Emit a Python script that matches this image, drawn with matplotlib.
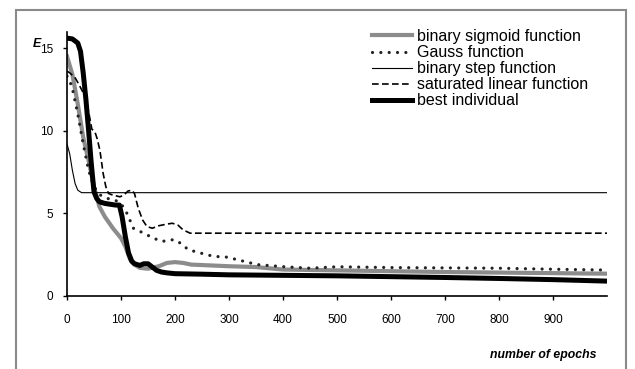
import matplotlib
matplotlib.use('Agg')
import matplotlib.pyplot as plt
from matplotlib.patches import Rectangle

plt.rcParams['font.family'] = ['Liberation Sans', 'DejaVu Sans']

# data
sig_x = [0, 10, 20, 30, 40, 50, 60, 70, 85, 95, 100, 108, 117, 125, 135, 150, 170, 185, 200, 215, 230,
         300, 350, 400, 500, 700, 1000]
sig_y = [14.5, 13.4, 11.6, 9.6, 8.2, 6.6, 5.4, 4.8, 4.1, 3.7, 3.5, 3.0, 2.2, 1.9, 1.7, 1.65, 1.8, 2.0, 2.05,
         2.0, 1.9, 1.8, 1.75, 1.6, 1.55, 1.45, 1.35]

gauss_x = [0, 9, 20, 30, 40, 50, 62, 75, 89, 100, 111, 123, 142, 160, 176, 194, 204, 213, 225, 247, 271,
           296, 315, 352, 402, 450, 500, 600, 700, 800, 900, 1000]
gauss_y = [13.3, 12.7, 11.0, 9.2, 7.6, 6.6, 6.1, 5.9, 5.8, 5.6, 5.0, 4.1, 3.8, 3.5, 3.3, 3.4, 3.35, 3.1,
           2.8, 2.6, 2.4, 2.35, 2.2, 1.9, 1.77, 1.68, 1.77, 1.72, 1.7, 1.68, 1.62, 1.57]

step_x = [0, 5, 10, 15, 20, 27, 1000]
step_y = [9.2, 8.6, 7.6, 6.8, 6.4, 6.25, 6.25]

sat_x = [0, 5, 15, 22, 30, 36, 42, 46, 52, 56, 61, 67, 72, 77, 85, 92, 98, 105, 113, 120, 125, 132, 140,
         148, 158, 170, 185, 195, 205, 215, 228, 240, 1000]
sat_y = [13.6, 13.5, 13.2, 12.8, 12.3, 11.8, 10.8, 10.1, 9.9, 9.5, 8.8, 7.4, 6.6, 6.2, 6.1, 6.05, 6.0, 6.1,
         6.35, 6.4, 6.2, 5.3, 4.6, 4.2, 4.1, 4.25, 4.35, 4.4, 4.3, 4.0, 3.8, 3.8, 3.8]

best_x = [0, 10, 20, 25, 30, 35, 40, 45, 50, 55, 60, 70, 80, 90, 97, 102, 108, 114, 120, 125, 135, 142,
          150, 158, 166, 175, 185, 200, 250, 300, 400, 500, 600, 700, 800, 900, 1000]
best_y = [15.6, 15.55, 15.3, 14.8, 13.5, 11.9, 10.0, 8.0, 6.3, 5.9, 5.7, 5.6, 5.55, 5.5, 5.5, 4.8, 3.6,
          2.6, 2.1, 1.95, 1.85, 1.95, 1.95, 1.75, 1.55, 1.45, 1.4, 1.35, 1.32, 1.28, 1.25, 1.22, 1.17,
          1.12, 1.06, 0.99, 0.9]

x_ticks = [0, 100, 200, 300, 400, 500, 600, 700, 800, 900]
y_ticks = [0, 5, 10, 15]

fig = plt.figure(figsize=(6.35, 3.69), dpi=100)
ax = fig.add_axes([67 / 635, 1 - 296 / 369, 540 / 635, 264.5 / 369])

ax.plot(sig_x, sig_y, color='#8c8c8c', lw=3.0, label='binary sigmoid function', solid_joinstyle='round')
ax.plot(gauss_x, gauss_y, color='#222222', lw=2.3, ls=(0, (0.01, 2.6)), dash_capstyle='round',
        label='Gauss function')
ax.plot(step_x, step_y, color='black', lw=0.8, label='binary step function')
ax.plot(sat_x, sat_y, color='black', lw=1.2, ls=(0, (4, 2)), label='saturated linear function')
ax.plot(best_x, best_y, color='black', lw=3.6, label='best individual', solid_joinstyle='round')

ax.set_xlim(0, 1000)
ax.set_ylim(0, 16)
ax.set_xticks(x_ticks)
ax.set_yticks(y_ticks)
ax.spines['right'].set_visible(False)
ax.spines['top'].set_visible(False)
for s in ['left', 'bottom']:
    ax.spines[s].set_linewidth(1.2)
ax.tick_params(direction='out', length=3, width=1, labelsize=8.5)
ax.tick_params(axis='y', pad=7)
ax.tick_params(axis='x', pad=10)

ax.legend(loc='upper left', bbox_to_anchor=(372 / 635, 1 - 29 / 369), bbox_transform=fig.transFigure,
          frameon=False, fontsize=11.5, borderpad=0, borderaxespad=0, handlelength=2.5,
          handletextpad=0.3, labelspacing=0.07)

fig.text(33 / 635, 1 - 44 / 369, 'E', fontsize=9, fontweight='bold', fontstyle='italic', va='center')
fig.text(596 / 635, 1 - 355 / 369, 'number of epochs', fontsize=8.8, fontweight='bold',
         fontstyle='italic', ha='right', va='center')

# grey outer frame (cut off at the bottom like in the source)
fig.patches.append(Rectangle((16 / 635, -0.1), 610 / 635, 1.1 - 10 / 369, transform=fig.transFigure,
                             fill=False, edgecolor='#8a8a8a', lw=1.5))

fig.savefig('out.png', dpi=100)
